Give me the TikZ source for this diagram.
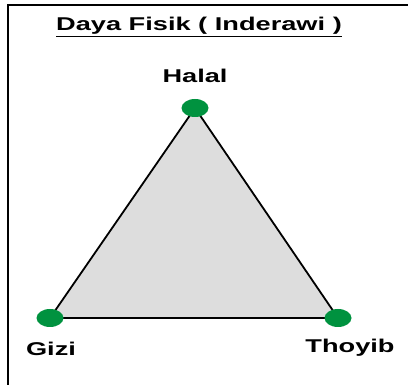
\documentclass[tikz,border=0pt]{standalone}
\usepackage{fontspec}
\setmainfont{Liberation Sans}[FakeStretch=1.47]
\usetikzlibrary{positioning,shapes.geometric}

\definecolor{dotgreen}{RGB}{0,146,63}
\definecolor{trifill}{RGB}{221,221,221}

\begin{document}
\begin{tikzpicture}[
  x=1pt, y=-1pt,
  every node/.style={font=\fontsize{18.5}{22}\selectfont\bfseries},
  dot/.style={ellipse, fill=dotgreen, minimum width=27pt, minimum height=18pt, inner sep=0pt},
  lbl/.style={inner sep=0pt},
]
\useasboundingbox (0,0) rectangle (408,385);

% frame (only top and left side show)
\draw[line width=2pt] (7.5,385) |- (408,5.5);

\node[lbl, anchor=base] (title) at (199,31) {\underline{Daya Fisik ( Inderawi )}};

% corners of the triangle
\coordinate (top) at (195,108);
\coordinate (left) at (50,318);
\coordinate (right) at (338,318);

\draw[line width=1.8pt, fill=trifill, line join=round] (top) -- (left) -- (right) -- cycle;

\node[dot] (halal) at (top) {};
\node[dot] (gizi) at (left) {};
\node[dot] (thoyib) at (right) {};

\node[lbl, above=16pt of halal] (halallbl) {Halal};
\node[lbl, below=15pt of gizi, xshift=1pt] (gizilbl) {Gizi};
\node[lbl, below=12pt of thoyib, xshift=12pt] (thoyiblbl) {Thoyib};
\end{tikzpicture}
\end{document}
